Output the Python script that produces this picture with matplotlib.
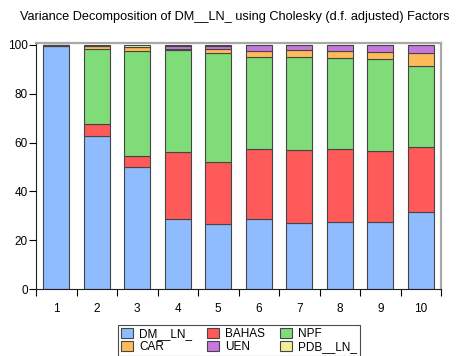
import matplotlib
matplotlib.use("Agg")
import matplotlib.pyplot as plt
import numpy as np

periods = ["1", "2", "3", "4", "5", "6", "7", "8", "9", "10"]
series_names = ["DM__LN_", "BAHAS", "NPF", "CAR", "UEN", "PDB__LN_"]
dm_ln = [99.6, 62.6, 50.1, 28.7, 26.6, 28.7, 27.0, 27.3, 27.3, 31.4]
bahas = [0.1, 4.9, 4.5, 27.3, 25.3, 28.6, 29.8, 30.0, 29.4, 26.7]
npf = [0.1, 31.0, 42.8, 42.0, 44.7, 37.9, 38.2, 37.2, 37.4, 33.3]
car = [0.05, 1.0, 1.6, 0.5, 1.9, 2.5, 2.8, 3.0, 2.9, 5.3]
uen = [0.05, 0.2, 0.3, 1.2, 1.2, 2.2, 2.1, 2.4, 2.9, 3.2]
pdb_ln = [0.1, 0.3, 0.7, 0.3, 0.3, 0.1, 0.1, 0.1, 0.1, 0.1]

colors = ["#8fbcff", "#ff5a5a", "#80dc78", "#ffbb5a", "#c878dc", "#f0f096"]
data = [dm_ln, bahas, npf, car, uen, pdb_ln]

plt.rcParams['font.family'] = ['Liberation Sans', 'DejaVu Sans']

fig = plt.figure(figsize=(4.57, 3.56), dpi=100)
ax = fig.add_axes([36/457, 1-289/356, (441-36)/457, (289-43)/356])

x = np.arange(1, len(periods) + 1)
bottom = np.zeros(len(periods))
handles = []
for name, vals, c in zip(series_names, data, colors):
    vals = np.array(vals)
    h = ax.bar(x, vals, width=0.63, bottom=bottom, color=c, edgecolor="#454545",
               linewidth=0.8, label=name)
    handles.append(h)
    bottom += vals

ax.set_xlim(0.5, 10.5)
ax.set_ylim(0, 100.8)
ax.set_yticks([0, 20, 40, 60, 80, 100])
ax.set_xticks(x)
ax.set_xticklabels(periods)
ax.set_xticks(np.arange(0.5, 11, 1), minor=True)
ax.tick_params(axis='x', which='major', length=0, pad=10, labelsize=8.5)
ax.tick_params(axis='x', which='minor', length=5, direction='out', width=0.8)
ax.tick_params(axis='y', length=5, direction='out', width=0.8, pad=1, labelsize=8.5)

for s in ['top', 'right']:
    ax.spines[s].set_color('#a8a8a8')
    ax.spines[s].set_linewidth(1.6)
for s in ['left', 'bottom']:
    ax.spines[s].set_color('#202020')
    ax.spines[s].set_linewidth(0.8)

fig.text(20/457, 1-17/356, "Variance Decomposition of DM__LN_ using Cholesky (d.f. adjusted) Factors",
         fontsize=9.2, ha='left', va='center')

# legend filled row-wise like the reference (matplotlib fills column-wise)
order = [0, 3, 1, 4, 2, 5]
leg = fig.legend(handles=[handles[i] for i in order], labels=[series_names[i] for i in order],
                 loc='upper center', ncol=3,
                 bbox_to_anchor=(239/457, 1-319/356), fontsize=8.5, frameon=True,
                 fancybox=False, edgecolor='#202020', handlelength=1.0, handleheight=0.9,
                 handletextpad=0.5, columnspacing=1.3, labelspacing=0.1,
                 borderpad=0.25)
leg.get_frame().set_linewidth(0.8)

fig.savefig("out.png", dpi=100)
